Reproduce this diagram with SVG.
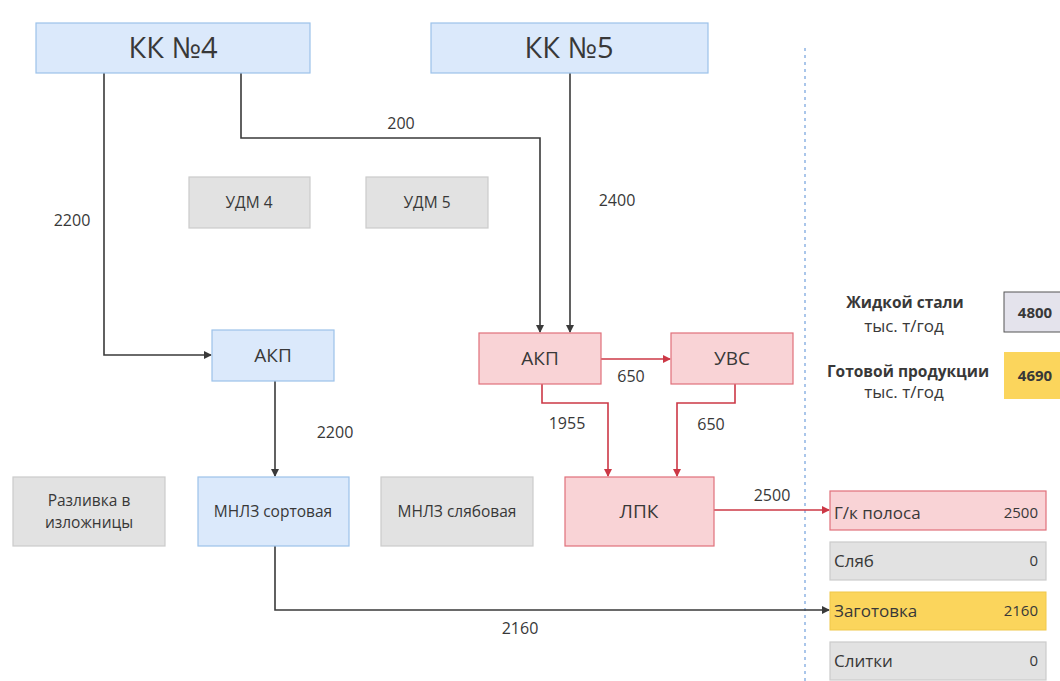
<svg xmlns="http://www.w3.org/2000/svg" width="1060" height="681" viewBox="0 0 1060 681">
  <defs>
    <style>
      text { font-family: "Open Sans", "Liberation Sans", sans-serif; fill: #383838; }
      .blue { fill: #dbe9fb; stroke: #9cc2ea; stroke-width: 1.2; }
      .red { fill: #f9d3d6; stroke: #e0707a; stroke-width: 1.2; }
      .gray { fill: #e2e2e2; stroke: #cbcbcb; stroke-width: 1.2; }
      .yellow { fill: #fbd55c; stroke: #f0c84a; stroke-width: 1; }
      .title { font-size: 29px; text-anchor: middle; }
      .mid { font-size: 19px; text-anchor: middle; }
      .small { font-size: 15.5px; text-anchor: middle; }
      .lbl { font-size: 16px; text-anchor: middle; }
      .row { font-size: 17px; }
      .num { font-size: 15px; text-anchor: end; }
      .leg { font-size: 15.5px; font-weight: bold; text-anchor: middle; }
      .unit { font-size: 17px; text-anchor: middle; }
      .tot { font-size: 15px; font-weight: bold; text-anchor: middle; }
      .blk { fill: none; stroke: #3a3a3a; stroke-width: 1.6; }
      .rd { fill: none; stroke: #cc3846; stroke-width: 1.6; }
    </style>
    <marker id="arrBlk" markerWidth="8" markerHeight="8" refX="7" refY="4" orient="auto" markerUnits="userSpaceOnUse">
      <path d="M0,0 L8,4 L0,8 z" fill="#3a3a3a"/>
    </marker>
    <marker id="arrRed" markerWidth="8" markerHeight="8" refX="7" refY="4" orient="auto" markerUnits="userSpaceOnUse">
      <path d="M0,0 L8,4 L0,8 z" fill="#cc3846"/>
    </marker>
  </defs>

  <rect width="1060" height="681" fill="#ffffff"/>

  <!-- divider between scheme and totals -->
  <line x1="805" y1="48" x2="805" y2="681" stroke="#8fb4e3" stroke-width="1.5" stroke-dasharray="3,4"/>

  <!-- connectors -->
  <g id="connectors">
    <path class="blk" d="M104,73 V355 H211" marker-end="url(#arrBlk)"/>
    <path class="blk" d="M241,73 V138 H540 V332" marker-end="url(#arrBlk)"/>
    <path class="blk" d="M570,73 V332" marker-end="url(#arrBlk)"/>
    <path class="blk" d="M275,381 V476" marker-end="url(#arrBlk)"/>
    <path class="blk" d="M275,546 V610 H829" marker-end="url(#arrBlk)"/>
    <path class="rd" d="M601,359 H670" marker-end="url(#arrRed)"/>
    <path class="rd" d="M542,384 V403 H608 V476" marker-end="url(#arrRed)"/>
    <path class="rd" d="M735,384 V403 H677 V476" marker-end="url(#arrRed)"/>
    <path class="rd" d="M714,510 H829" marker-end="url(#arrRed)"/>
    <text class="lbl" x="401" y="129">200</text>
    <text class="lbl" x="72" y="226">2200</text>
    <text class="lbl" x="617" y="206">2400</text>
    <text class="lbl" x="335" y="438">2200</text>
    <text class="lbl" x="631" y="382">650</text>
    <text class="lbl" x="567" y="429">1955</text>
    <text class="lbl" x="711" y="430">650</text>
    <text class="lbl" x="772" y="501">2500</text>
    <text class="lbl" x="520" y="634">2160</text>
  </g>

  <g id="kk4"><rect class="blue" x="36" y="23" width="274" height="50"/><text class="title" x="173" y="58">КК №4</text></g>
  <g id="kk5"><rect class="blue" x="431" y="23" width="277" height="50"/><text class="title" x="569" y="58">КК №5</text></g>
  <g id="udm4"><rect class="gray" x="189" y="177" width="121" height="51"/><text class="small" x="249" y="208">УДМ 4</text></g>
  <g id="udm5"><rect class="gray" x="366" y="177" width="122" height="51"/><text class="small" x="427" y="208">УДМ 5</text></g>
  <g id="akp-blue"><rect class="blue" x="212" y="330" width="122" height="51"/><text class="mid" x="273" y="362">АКП</text></g>
  <g id="akp-red"><rect class="red" x="479" y="333" width="122" height="51"/><text class="mid" x="540" y="365">АКП</text></g>
  <g id="uvs"><rect class="red" x="671" y="333" width="122" height="51"/><text class="mid" x="732" y="365">УВС</text></g>
  <g id="razlivka"><rect class="gray" x="13" y="477" width="152" height="69"/><text class="small" x="89" y="506">Разливка в</text><text class="small" x="89" y="528">изложницы</text></g>
  <g id="mnlz-sort"><rect class="blue" x="198" y="477" width="151" height="69"/><text class="small" x="273" y="517">МНЛЗ сортовая</text></g>
  <g id="mnlz-slab"><rect class="gray" x="381" y="477" width="152" height="69"/><text class="small" x="457" y="517">МНЛЗ слябовая</text></g>
  <g id="lpk"><rect class="red" x="565" y="477" width="149" height="69"/><text class="mid" x="639" y="518">ЛПК</text></g>

  <!-- output by product -->
  <g id="gk"><rect class="red" x="830" y="491" width="216" height="39"/><text class="row" x="834" y="519">Г/к полоса</text><text class="num" x="1038" y="518">2500</text></g>
  <g id="slab"><rect class="gray" x="830" y="542" width="216" height="38"/><text class="row" x="834" y="567">Сляб</text><text class="num" x="1038" y="566">0</text></g>
  <g id="zagotovka"><rect class="yellow" x="830" y="592" width="216" height="38"/><text class="row" x="834" y="617">Заготовка</text><text class="num" x="1038" y="616">2160</text></g>
  <g id="slitki"><rect class="gray" x="830" y="642" width="216" height="38"/><text class="row" x="834" y="667">Слитки</text><text class="num" x="1038" y="666">0</text></g>

  <!-- totals -->
  <g id="total-steel">
    <text class="leg" x="905" y="308">Жидкой стали</text>
    <text class="unit" x="904" y="332">тыс. т/год</text>
    <rect x="1004" y="292" width="66" height="40" fill="#e4e3ec" stroke="#555555" stroke-width="1"/>
    <text class="tot" x="1035" y="318">4800</text>
  </g>
  <g id="total-product">
    <text class="leg" x="908" y="377">Готовой продукции</text>
    <text class="unit" x="904" y="398">тыс. т/год</text>
    <rect x="1004" y="352" width="66" height="47" fill="#fbd55c"/>
    <text class="tot" x="1035" y="381">4690</text>
  </g>
</svg>
